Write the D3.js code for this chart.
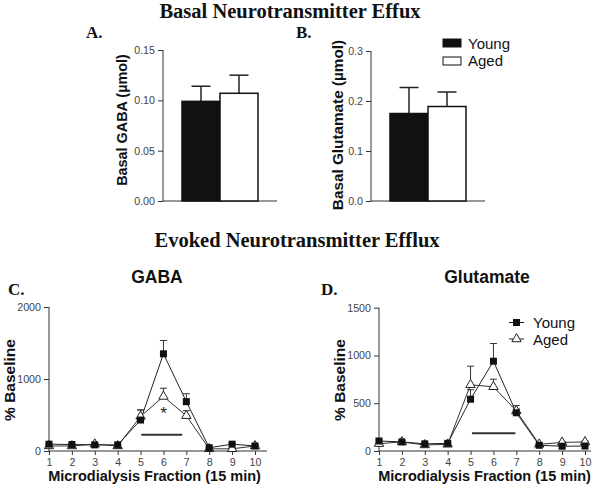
<!DOCTYPE html>
<html>
<head>
<meta charset="utf-8">
<script src="https://cdn.jsdelivr.net/npm/d3@7"></script>
<style>
  body { margin: 0; background: #fff; }
  svg { display: block; }
</style>
</head>
<body>
<svg id="fig" width="600" height="494"></svg>
<script>
// basal bar data
const groups = ["Young", "Aged"];
const basalGaba = [0.099, 0.107];
const basalGabaErr = [0.015, 0.018];
const basalGlu = [0.175, 0.189];
const basalGluErr = [0.052, 0.029];

// evoked time course data
const fractions = [1, 2, 3, 4, 5, 6, 7, 8, 9, 10];
const gabaYoung = [95, 90, 85, 85, 430, 1350, 685, 45, 95, 70];
const gabaYoungErr = [10, 10, 10, 10, 140, 185, 110, 10, 10, 10];
const gabaAged = [70, 70, 95, 70, 480, 757, 490, 30, 30, 70];
const gabaAgedErr = [10, 10, 10, 10, 90, 115, 70, 10, 10, 10];
const gluYoung = [105, 95, 75, 80, 542, 940, 400, 60, 50, 52];
const gluYoungErr = [10, 10, 10, 10, 100, 185, 40, 10, 10, 10];
const gluAged = [77, 95, 63, 70, 693, 672, 420, 70, 90, 95];
const gluAgedErr = [10, 10, 10, 10, 195, 80, 55, 10, 10, 10];

const sans = "'Liberation Sans', Arial, sans-serif";
const serif = "'Liberation Serif', 'Times New Roman', serif";
const axisCol = "#333";

const svg = d3.select("#fig");

function text(x, y, str, opts) {
    const t = svg.append("text")
        .attr("x", x).attr("y", y)
        .attr("font-family", opts.family || sans)
        .attr("font-size", opts.size)
        .attr("font-weight", opts.weight || "normal")
        .attr("fill", opts.fill || "#111")
        .attr("text-anchor", opts.anchor || "start")
        .text(str);
    if (opts.rotate) t.attr("transform", `rotate(-90,${x},${y})`);
    return t;
}

function styleAxis(g, size) {
    g.selectAll("path, line").attr("stroke", axisCol).attr("stroke-width", 1);
    g.selectAll("text").attr("font-family", sans).attr("font-size", size || 10.7).attr("fill", "#444");
}

// headings
text(290, 18, "Basal Neurotransmitter Effux", { family: serif, size: 20.5, weight: "bold", anchor: "middle" });
text(297, 247, "Evoked Neurotransmitter Efflux", { family: serif, size: 20.5, weight: "bold", anchor: "middle" });
text(86, 38, "A.", { family: serif, size: 17, weight: "bold" });
text(296, 38, "B.", { family: serif, size: 17, weight: "bold" });
text(8, 295, "C.", { family: serif, size: 17, weight: "bold" });
text(321, 295, "D.", { family: serif, size: 17, weight: "bold" });

function barPanel(x0, x1, y0, y1, maxV, ticks, vals, errs, fmt, label, labelX, labelY, labelSize) {
    const x = d3.scaleBand().domain(groups).range([x0, x1]).paddingOuter(0.5).paddingInner(0);
    const y = d3.scaleLinear().domain([0, maxV]).range([y0, y1]);

    const ay = svg.append("g").attr("transform", `translate(${x0},0)`)
        .call(d3.axisLeft(y).tickValues(ticks).tickFormat(d3.format(fmt)).tickSize(5).tickSizeOuter(0));
    styleAxis(ay);
    ay.select(".domain").attr("d", `M0,${y1}V${y0}`);

    svg.append("line").attr("x1", x0).attr("x2", x1).attr("y1", y0).attr("y2", y0)
        .attr("stroke", axisCol);

    groups.forEach((g, i) => {
        const cx = x(g) + x.bandwidth() / 2;
        // error bar (upper only)
        svg.append("line").attr("x1", cx).attr("x2", cx)
            .attr("y1", y(vals[i])).attr("y2", y(vals[i] + errs[i]))
            .attr("stroke", "#222").attr("stroke-width", 1.5);
        svg.append("line").attr("x1", cx - 9.5).attr("x2", cx + 9.5)
            .attr("y1", y(vals[i] + errs[i])).attr("y2", y(vals[i] + errs[i]))
            .attr("stroke", "#222").attr("stroke-width", 1.5);
        svg.append("rect")
            .attr("x", x(g)).attr("y", y(vals[i]))
            .attr("width", x.bandwidth()).attr("height", y0 - y(vals[i]))
            .attr("fill", i === 0 ? "#111" : "#fff")
            .attr("stroke", "#111").attr("stroke-width", 1.5);
    });

    text(labelX, labelY, label, { size: labelSize, weight: "bold", anchor: "middle", rotate: true });
}

barPanel(163, 277, 201, 50, 0.15, [0, 0.05, 0.10, 0.15], basalGaba, basalGabaErr, ".2f", "Basal GABA (\u00b5mol)", 127, 120, 14.4);
barPanel(371, 485, 201, 51, 0.3, [0, 0.1, 0.2, 0.3], basalGlu, basalGluErr, ".1f", "Basal Glutamate (\u00b5mol)", 343, 125, 15.3);

// legend for bars
[["Young", "#111"], ["Aged", "#fff"]].forEach(([name, fill], i) => {
    svg.append("rect").attr("x", 443).attr("y", 39 + i * 18).attr("width", 18).attr("height", 8)
        .attr("fill", fill).attr("stroke", "#111").attr("stroke-width", 1);
    text(468, 48.5 + i * 17, name, { size: 15 });
});

const triangle = d3.symbol().type(d3.symbolTriangle).size(38);

function linePanel(x0, xEnd, y0, y1, maxV, ticks, young, youngErr, aged, agedErr, bar, star, title, titleX) {
    const x = d3.scaleLinear().domain([1, 10]).range([x0, x0 + 206]);
    const y = d3.scaleLinear().domain([0, maxV]).range([y0, y1]);

    const ay = svg.append("g").attr("transform", `translate(${x0},0)`)
        .call(d3.axisLeft(y).tickValues(ticks).tickFormat(d3.format("d")).tickSize(5).tickSizeOuter(0));
    styleAxis(ay);
    ay.select(".domain").attr("d", `M0,${y1}V${y0}`);

    const ax = svg.append("g").attr("transform", `translate(0,${y0})`)
        .call(d3.axisBottom(x).tickValues(fractions).tickFormat(d3.format("d")).tickSize(4).tickSizeOuter(0));
    styleAxis(ax);
    ax.select(".domain").attr("d", `M${x0},0H${xEnd}`);

    // stimulation bar
    svg.append("line").attr("x1", x(bar[0])).attr("x2", x(bar[1]))
        .attr("y1", y(bar[2])).attr("y2", y(bar[2]))
        .attr("stroke", "#333").attr("stroke-width", 2);
    if (star) text(x(star[0]), y(star[1]) + 9, "*", { size: 17, anchor: "middle", fill: "#222" });

    const line = d3.line().x((d, i) => x(fractions[i])).y(d => y(d));

    [[aged, agedErr], [young, youngErr]].forEach(([vals, errs]) => {
        svg.append("g").selectAll("g").data(vals).join("g").each(function (d, i) {
            const g = d3.select(this);
            const cx = x(fractions[i]);
            g.append("line").attr("x1", cx).attr("x2", cx).attr("y1", y(d)).attr("y2", y(d + errs[i]))
                .attr("stroke", "#333").attr("stroke-width", 1);
            g.append("line").attr("x1", cx - 3.5).attr("x2", cx + 3.5)
                .attr("y1", y(d + errs[i])).attr("y2", y(d + errs[i]))
                .attr("stroke", "#333").attr("stroke-width", 1);
        });
    });

    svg.append("path").datum(aged).attr("d", line).attr("fill", "none").attr("stroke", "#333").attr("stroke-width", 1);
    svg.append("path").datum(young).attr("d", line).attr("fill", "none").attr("stroke", "#222").attr("stroke-width", 1);

    svg.append("g").selectAll("path").data(aged).join("path")
        .attr("d", triangle)
        .attr("transform", (d, i) => `translate(${x(fractions[i])},${y(d)})`)
        .attr("fill", "#fff").attr("stroke", "#222").attr("stroke-width", 1);
    svg.append("g").selectAll("rect").data(young).join("rect")
        .attr("x", (d, i) => x(fractions[i]) - 3.5).attr("y", d => y(d) - 3.5)
        .attr("width", 7).attr("height", 7).attr("fill", "#111");

    text(titleX, 283, title, { size: 17.5, weight: "bold", anchor: "middle" });
    text(x0 + 105.5, 481, "Microdialysis Fraction (15 min)", { size: 14.5, weight: "bold", anchor: "middle" });
    text(x0 - 34, 380, "% Baseline", { size: 15.5, weight: "bold", anchor: "middle", rotate: true });
}

linePanel(49, 267, 451, 307, 2000, [0, 1000, 2000], gabaYoung, gabaYoungErr, gabaAged, gabaAgedErr,
    [5.03, 6.82, 224], [6, 570], "GABA", 157);
linePanel(379, 591, 451, 307.7, 1500, [0, 500, 1000, 1500], gluYoung, gluYoungErr, gluAged, gluAgedErr,
    [5.06, 6.96, 186], null, "Glutamate", 487);

// legend for lines
svg.append("line").attr("x1", 509).attr("x2", 524).attr("y1", 322.5).attr("y2", 322.5).attr("stroke", "#222");
svg.append("rect").attr("x", 513).attr("y", 319).attr("width", 7).attr("height", 7).attr("fill", "#111");
svg.append("line").attr("x1", 509).attr("x2", 524).attr("y1", 339).attr("y2", 339).attr("stroke", "#222");
svg.append("path").attr("d", triangle).attr("transform", "translate(516.5,339)")
    .attr("fill", "#fff").attr("stroke", "#222");
text(533, 328, "Young", { size: 15 });
text(533, 344.5, "Aged", { size: 15 });
</script>
</body>
</html>
